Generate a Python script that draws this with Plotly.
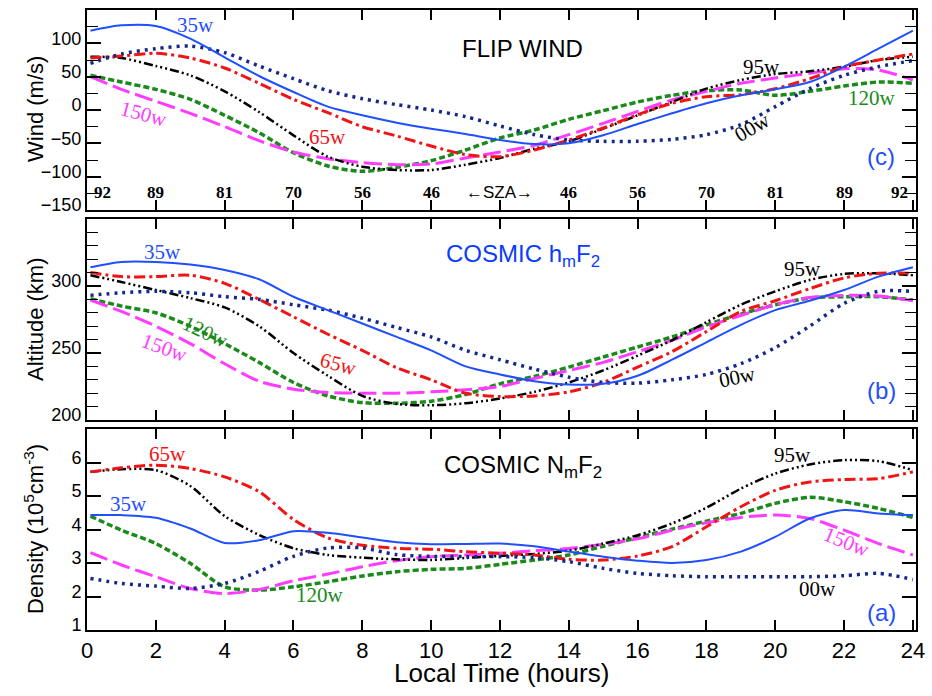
import plotly.graph_objects as go
from plotly.subplots import make_subplots

# ---------------- data ----------------
hours = [0.1] + list(range(1, 25))

series_names = ["35w", "00w", "65w", "95w", "120w", "150w"]

wind_35w = [119, 127, 126, 107, 79, 51, 27, 5, -8, -19, -28, -36, -45, -51, -50, -38, -21, -5, 10, 22, 31, 42, 65, 92, 119]
wind_00w = [70, 84, 92, 96, 86, 66, 47, 29, 17, 8, 0, -10, -24, -37, -45, -47, -47, -44, -37, -22, 5, 32, 52, 65, 74]
wind_65w = [78, 81, 85, 78, 63, 40, 16, -4, -25, -39, -54, -67, -70, -60, -45, -27, -7, 10, 20, 23, 32, 47, 65, 75, 84]
wind_95w = [80, 78, 66, 52, 28, -3, -38, -70, -85, -90, -90, -82, -72, -58, -47, -28, -8, 12, 32, 45, 54, 58, 65, 75, 80]
wind_120w = [52, 42, 31, 16, -8, -34, -64, -84, -92, -86, -76, -60, -42, -30, -14, -1, 12, 22, 29, 30, 22, 28, 36, 42, 40]
wind_150w = [50, 31, 13, -5, -25, -46, -63, -73, -79, -82, -81, -72, -63, -53, -37, -20, -2, 15, 28, 40, 48, 55, 62, 60, 45]

alt_35w = [314, 318, 318, 316, 312, 305, 292, 282, 272, 262, 252, 240, 234, 229, 226.5, 227, 233, 245, 258, 271, 282, 289, 297, 307, 314]
alt_00w = [293, 295, 296, 295, 292, 290, 286, 282, 276, 269, 262, 252, 245, 238, 232, 228, 227.5, 230, 234, 242, 254, 270, 287, 296, 296]
alt_65w = [310, 307, 307, 308, 302, 290, 277, 264, 252, 239, 230, 220, 217.5, 218, 221, 228, 239.5, 251, 266, 281, 289, 298, 306, 309.5, 309.5]
alt_95w = [308, 303, 297, 291, 284, 270, 250, 233, 218, 212, 211, 212.5, 216, 221, 228, 237, 248, 259.5, 273, 286, 296, 304.5, 309, 309.5, 308]
alt_120w = [290.5, 285, 280, 270, 257, 243, 228, 218, 213, 212.5, 214, 219, 227, 232.5, 239.5, 247, 254.5, 262, 271, 279, 286, 291, 292, 292, 289.5]
alt_150w = [289.5, 281, 270, 257, 242, 229, 223, 220.5, 220, 220, 221, 222.5, 225, 231, 237, 243, 251, 259.5, 269.5, 278, 286, 291.5, 293, 292.5, 289]

den_35w = [4.43, 4.43, 4.35, 4.03, 3.6, 3.68, 3.95, 3.9, 3.76, 3.62, 3.56, 3.57, 3.58, 3.5, 3.34, 3.19, 3.07, 3.0, 3.09, 3.34, 3.78, 4.33, 4.58, 4.48, 4.43]
den_00w = [2.54, 2.39, 2.31, 2.24, 2.39, 2.75, 3.2, 3.45, 3.45, 3.25, 3.2, 3.19, 3.19, 3.16, 3.04, 2.84, 2.69, 2.62, 2.59, 2.59, 2.59, 2.59, 2.62, 2.69, 2.51]
den_65w = [5.72, 5.84, 5.92, 5.82, 5.57, 5.13, 4.3, 3.75, 3.53, 3.44, 3.41, 3.34, 3.29, 3.24, 3.11, 3.09, 3.21, 3.49, 4.08, 4.68, 5.17, 5.42, 5.49, 5.52, 5.72]
den_95w = [5.72, 5.8, 5.77, 5.3, 4.4, 3.84, 3.44, 3.24, 3.16, 3.11, 3.09, 3.15, 3.21, 3.27, 3.37, 3.58, 3.83, 4.18, 4.65, 5.22, 5.67, 5.94, 6.07, 6.04, 5.77]
den_120w = [4.4, 3.98, 3.58, 2.99, 2.29, 2.19, 2.29, 2.44, 2.61, 2.74, 2.81, 2.84, 2.96, 3.09, 3.24, 3.5, 3.76, 4.01, 4.25, 4.48, 4.78, 4.96, 4.83, 4.63, 4.36]
den_150w = [3.31, 2.94, 2.59, 2.24, 2.09, 2.21, 2.47, 2.67, 2.89, 3.07, 3.19, 3.24, 3.29, 3.37, 3.43, 3.56, 3.72, 3.98, 4.2, 4.36, 4.43, 4.33, 3.98, 3.58, 3.24]

sza_hours = [0.45, 2, 4, 6, 8, 10, 14, 16, 18, 20, 22, 23.6]
sza_labels = ["92", "89", "81", "70", "56", "46", "46", "56", "70", "81", "89", "92"]

x_ticks = list(range(0, 25, 2))

# ---------------- styles ----------------
styles = {
    "35w": dict(color="#1f4fff", width=2, dash="solid"),
    "00w": dict(color="#14288c", width=3.5, dash="3px,5px"),
    "65w": dict(color="#f01414", width=3, dash="11px,4px,3px,4px"),
    "95w": dict(color="#000000", width=2.5, dash="9px,3px,2px,3px,2px,3px,2px,3px"),
    "120w": dict(color="#1a8a1a", width=3.5, dash="6px,3px"),
    "150w": dict(color="#ff3cff", width=3, dash="18px,6px"),
}
draw_order = ["120w", "150w", "95w", "65w", "00w", "35w"]

panels = [
    (1, dict(zip(series_names, [wind_35w, wind_00w, wind_65w, wind_95w, wind_120w, wind_150w]))),
    (2, dict(zip(series_names, [alt_35w, alt_00w, alt_65w, alt_95w, alt_120w, alt_150w]))),
    (3, dict(zip(series_names, [den_35w, den_00w, den_65w, den_95w, den_120w, den_150w]))),
]

fig = make_subplots(rows=3, cols=1, shared_xaxes=True)

for row, data in panels:
    for name in draw_order:
        st = styles[name]
        fig.add_trace(go.Scatter(
            x=hours, y=data[name], mode="lines", name=name, showlegend=False,
            line=dict(color=st["color"], width=st["width"], dash=st["dash"],
                      shape="spline", smoothing=0.8),
            hoverinfo="skip"), row=row, col=1)

FONT = "Liberation Sans, Arial, sans-serif"
SERIF = "Liberation Serif, Times New Roman, serif"

W, H = 932, 696
ml, mr, mt, mb = 87, 16, 10, 66
ph = H - mt - mb  # 620

def ydom(top_px, bot_px):
    return [(H - mb - bot_px) / ph, (H - mb - top_px) / ph]

domains = {1: ydom(10, 210), 2: ydom(219, 420), 3: ydom(429, 630)}

axis_common = dict(showline=True, linewidth=2, linecolor="black", mirror="ticks",
                   showgrid=False, zeroline=False, ticks="inside", tickcolor="black")

for r in (1, 2, 3):
    fig.update_xaxes(range=[0, 24.09], tickvals=x_ticks, ticklen=10, tickwidth=1.5,
                     showticklabels=(r == 3), tickfont=dict(family=FONT, size=22, color="black"),
                     row=r, col=1, **axis_common)

fig.update_yaxes(range=[-150, 150], tickvals=[-150, -100, -50, 0, 50, 100], ticklen=14, tickwidth=1.5,
                 minor=dict(dtick=25, tick0=0, ticks="inside", ticklen=11, tickcolor="black", tickwidth=1.2),
                 tickfont=dict(family=FONT, size=18, color="black"), ticklabelshift=-5,
                 domain=domains[1], row=1, col=1, **axis_common)
fig.update_yaxes(range=[200, 350], tickvals=[200, 250, 300], ticklen=14, tickwidth=1.5,
                 minor=dict(dtick=10, tick0=200, ticks="inside", ticklen=11, tickcolor="black", tickwidth=1.2),
                 tickfont=dict(family=FONT, size=18, color="black"), ticklabelshift=-5,
                 domain=domains[2], row=2, col=1, **axis_common)
fig.update_yaxes(range=[1, 7], tickvals=[1, 2, 3, 4, 5, 6], ticklen=14, tickwidth=1.5,
                 tickfont=dict(family=FONT, size=18, color="black"), ticklabelshift=-5,
                 domain=domains[3], row=3, col=1, **axis_common)

def px_to_paper_x(px):
    return (px - ml) / (W - ml - mr)

def py_to_paper_y(py):
    return (H - mb - py) / ph

def paper_text(text, px, py, size, color="black", angle=0, family=FONT):
    fig.add_annotation(text=text, x=px_to_paper_x(px), y=py_to_paper_y(py), xref="paper", yref="paper",
                       xanchor="center", yanchor="middle", textangle=angle, showarrow=False,
                       font=dict(family=family, size=size, color=color))

# axis titles
paper_text("Wind (m/s)", 35, 109, 22, angle=-90)
paper_text("Altitude (km)", 35, 320, 22, angle=-90)
paper_text("Density (10<sup>5</sup>cm<sup>-3</sup>)", 34, 529, 22, angle=-90)
paper_text("Local Time (hours)", 501, 673, 26)

# panel titles
paper_text("FLIP WIND", 522, 49, 24)
paper_text("COSMIC h<sub>m</sub>F<sub>2</sub>", 523, 256, 24, color="#0a3cff")
paper_text("COSMIC N<sub>m</sub>F<sub>2</sub>", 523, 466, 24)

for lab, py in (("(c)", 157), ("(b)", 390), ("(a)", 612)):
    paper_text(lab, 881, py, 24, color="#1f4fff")

# SZA labels
for h, lab in zip(sza_hours, sza_labels):
    fig.add_annotation(text="<b>" + lab + "</b>", x=h, y=-124, xref="x", yref="y", showarrow=False,
                       xanchor="center", yanchor="middle",
                       font=dict(family=SERIF, size=17, color="black"))
fig.add_annotation(text="\u2190SZA\u2192", x=12, y=-124, xref="x", yref="y", showarrow=False,
                   xanchor="center", yanchor="middle",
                   font=dict(family=FONT, size=17, color="black"))

# curve labels (row, hour, value, text, color, angle)
label_specs = [
    (1, 3.14, 127, "35w", styles["35w"]["color"], 0),
    (1, 7.0, -40, "65w", styles["65w"]["color"], 0),
    (1, 1.66, -6, "150w", styles["150w"]["color"], 15),
    (1, 19.6, 64, "95w", "black", 0),
    (1, 22.8, 18, "120w", styles["120w"]["color"], 0),
    (1, 19.35, -26, "00w", "black", -30),
    (2, 2.19, 325, "35w", styles["35w"]["color"], 0),
    (2, 3.45, 266, "120w", styles["120w"]["color"], 25),
    (2, 2.27, 254, "150w", styles["150w"]["color"], 20),
    (2, 7.3, 242, "65w", styles["65w"]["color"], 15),
    (2, 20.8, 313, "95w", "black", 0),
    (2, 18.9, 232, "00w", "black", -12),
    (3, 2.33, 6.25, "65w", styles["65w"]["color"], 0),
    (3, 1.22, 4.76, "35w", styles["35w"]["color"], 0),
    (3, 6.77, 2.04, "120w", styles["120w"]["color"], 0),
    (3, 20.5, 6.22, "95w", "black", 0),
    (3, 22.08, 3.63, "150w", styles["150w"]["color"], 22),
    (3, 21.24, 2.22, "00w", "black", 0),
]
for row, hx, val, txt, col, ang in label_specs:
    suffix = "" if row == 1 else str(row)
    fig.add_annotation(text=txt, x=hx, y=val, xref="x" + suffix, yref="y" + suffix, showarrow=False,
                       xanchor="center", yanchor="middle",
                       textangle=ang, font=dict(family=SERIF, size=21, color=col))

fig.update_layout(width=W, height=H, margin=dict(l=ml, r=mr, t=mt, b=mb, autoexpand=False),
                  plot_bgcolor="white", paper_bgcolor="white", showlegend=False,
                  font=dict(family=FONT, color="black"))

fig.write_html("out.html", config={"displayModeBar": False},
               post_script="document.body.style.margin='0px';document.body.style.overflow='hidden';")
